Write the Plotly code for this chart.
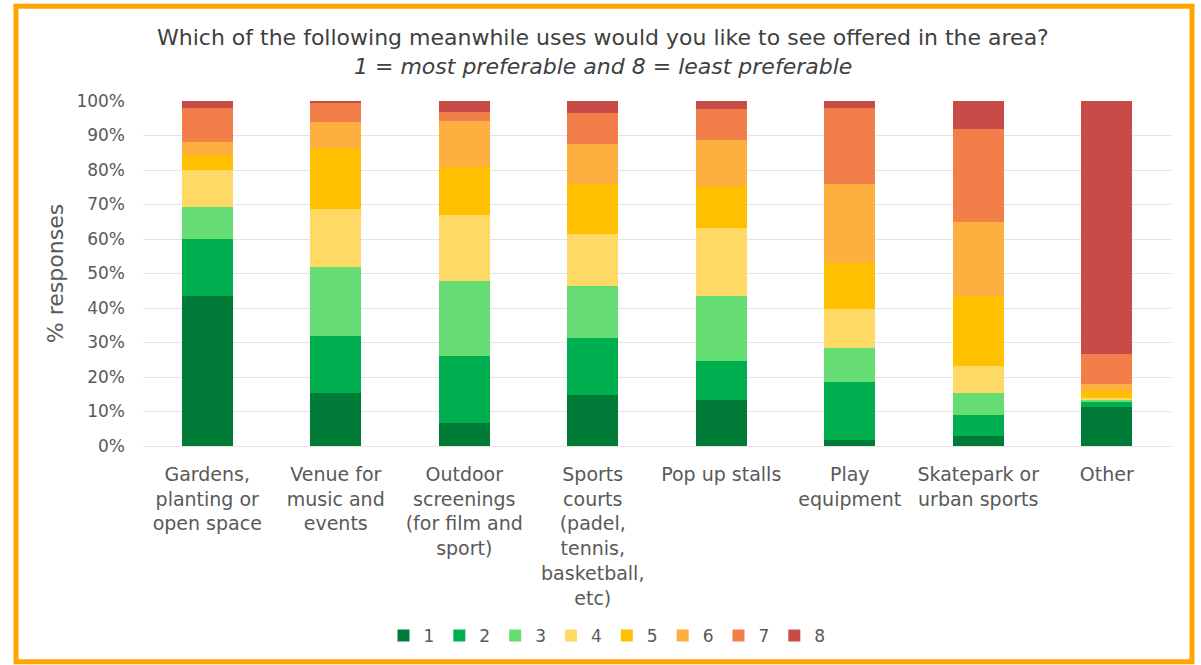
import plotly.graph_objects as go

categories = [
    "Gardens,<br>planting or<br>open space",
    "Venue for<br>music and<br>events",
    "Outdoor<br>screenings<br>(for film and<br>sport)",
    "Sports<br>courts<br>(padel,<br>tennis,<br>basketball,<br>etc)",
    "Pop up stalls",
    "Play<br>equipment",
    "Skatepark or<br>urban sports",
    "Other",
]

rank_names = ["1", "2", "3", "4", "5", "6", "7", "8"]

# percentage of responses per rank (1 = most preferable ... 8 = least)
rank1 = [43.4, 15.5, 6.8, 14.9, 13.2, 1.8, 2.8, 11.4]
rank2 = [16.5, 16.4, 19.3, 16.3, 11.3, 16.8, 6.1, 1.4]
rank3 = [9.4, 19.9, 21.7, 15.1, 19.0, 9.9, 6.4, 0.5]
rank4 = [10.8, 16.9, 19.2, 15.2, 19.6, 11.1, 8.0, 0.6]
rank5 = [4.3, 17.6, 14.0, 14.4, 12.2, 13.4, 20.1, 2.0]
rank6 = [3.8, 7.5, 13.2, 11.7, 13.5, 23.0, 21.5, 2.2]
rank7 = [9.9, 5.8, 2.7, 8.8, 8.8, 22.0, 27.1, 8.7]
rank8 = [1.9, 0.4, 3.1, 3.6, 2.4, 2.0, 8.0, 73.2]

series = [rank1, rank2, rank3, rank4, rank5, rank6, rank7, rank8]
colors = ["#007A37", "#00B050", "#66DD73", "#FFD966",
          "#FFC000", "#FDAF40", "#F27E4A", "#C84B47"]

y_ticks = [0, 10, 20, 30, 40, 50, 60, 70, 80, 90, 100]
y_ticklabels = [f"{v}%" for v in y_ticks]

title_line1 = "Which of the following meanwhile uses would you like to see offered in the area?"
title_line2 = "1 = most preferable and 8 = least preferable"
y_title = "% responses"

FONT = "DejaVu Sans"
W, H = 1201, 665
ML, MR, MT, MB = 143, 30, 101, 218
PW, PH = W - ML - MR, H - MT - MB


def px_to_paper_x(px):
    return (px - ML) / PW


def px_to_paper_y(py):
    return (H - MB - py) / PH


fig = go.Figure()
for name, vals, col in zip(rank_names, series, colors):
    fig.add_trace(go.Bar(
        x=categories, y=vals, name=name,
        marker=dict(color=col, line=dict(width=0)),
    ))

fig.update_layout(
    width=W, height=H,
    barmode="stack", bargap=0.6,
    margin=dict(l=ML, r=MR, t=MT, b=MB),
    paper_bgcolor="white", plot_bgcolor="white",
    font=dict(family=FONT, color="#595959", size=17),
    showlegend=True,
    legend=dict(
        orientation="h", x=px_to_paper_x(607), xanchor="center",
        y=px_to_paper_y(636), yanchor="middle",
        font=dict(size=17, color="#595959"),
        itemwidth=30, traceorder="normal",
    ),
    xaxis=dict(
        tickfont=dict(size=19, color="#595959"),
        showgrid=False, showline=False, ticks="", ticklabelstandoff=15,
    ),
    yaxis=dict(
        range=[0, 100],
        tickvals=y_ticks, ticktext=y_ticklabels,
        tickfont=dict(size=17, color="#595959"),
        showgrid=True, gridcolor="#E3E3E3", gridwidth=1,
        zeroline=True, zerolinecolor="#E3E3E3", zerolinewidth=1,
        showline=False, ticks="", ticklabelstandoff=17,
        title=dict(text=y_title, font=dict(size=22, color="#595959"), standoff=6),
    ),
)

fig.add_annotation(
    text=title_line1, xref="paper", yref="paper",
    x=px_to_paper_x(603), y=px_to_paper_y(37), xanchor="center", yanchor="middle",
    showarrow=False, font=dict(size=22, color="#404040", family=FONT),
)
fig.add_annotation(
    text="<i>" + title_line2 + "</i>", xref="paper", yref="paper",
    x=px_to_paper_x(603), y=px_to_paper_y(66), xanchor="center", yanchor="middle",
    showarrow=False, font=dict(size=22, color="#404040", family=FONT),
)

# orange frame around the chart
fig.add_shape(
    type="rect", xref="paper", yref="paper",
    x0=px_to_paper_x(16), x1=px_to_paper_x(1192),
    y0=px_to_paper_y(663.5), y1=px_to_paper_y(6),
    line=dict(color="#FFA500", width=5), fillcolor="rgba(0,0,0,0)", layer="above",
)

fig.write_html("out.html")
